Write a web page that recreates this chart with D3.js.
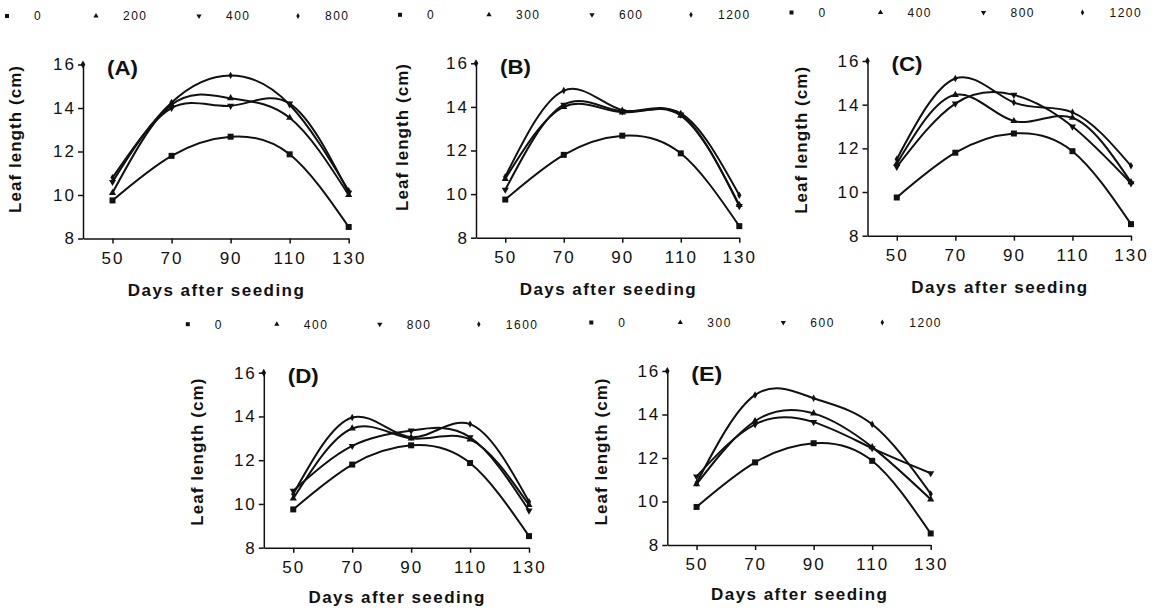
<!DOCTYPE html>
<html lang="en">
<head>
<meta charset="UTF-8">
<title>Leaf length</title>
<style>
    body{margin:0;background:#fff;}
    svg{display:block;font-family:"Liberation Sans",Arial,sans-serif;}
    .axis path,.axis line{fill:none;stroke:#111;stroke-width:1.5;}
    .axis text{font-size:17px;fill:#111;letter-spacing:2px;font-family:"Liberation Sans",Arial,sans-serif;}
    .curve{fill:none;stroke:#111;stroke-width:2;}
    .title{font-weight:bold;font-size:17px;fill:#111;}
    .panel-label{font-weight:bold;font-size:20px;fill:#111;}
    .legend text{font-size:12px;fill:#111;letter-spacing:1.5px;}
</style>
<script src="https://cdn.jsdelivr.net/npm/d3@7"></script>
</head>
<body>
<script>
    // data
    var days = [50, 70, 90, 110, 130];
    var yTicks = [8, 10, 12, 14, 16];
    var control = [9.75, 11.8, 12.68, 11.87, 8.53];   // dose 0, same in every panel

    var dosesA = ["0", "200", "400", "800"];
    var a200 = [10.1, 14.15, 14.45, 13.55, 10.0];
    var a400 = [10.6, 14.0, 14.1, 14.2, 10.1];
    var a800 = [10.8, 14.25, 15.5, 14.15, 10.2];

    var dosesB = ["0", "300", "600", "1200"];
    var b300 = [10.7, 14.0, 13.75, 13.6, 9.5];
    var b600 = [10.2, 14.1, 13.8, 13.65, 9.45];
    var b1200 = [10.8, 14.75, 13.85, 13.7, 9.95];

    var dosesC = ["0", "400", "800", "1200"];
    var c400 = [11.3, 14.45, 13.25, 13.4, 10.45];
    var c800 = [11.15, 14.05, 14.45, 13.0, 10.4];
    var c1200 = [11.5, 15.2, 14.1, 13.65, 11.2];

    var dosesD = ["0", "400", "800", "1600"];
    var d400 = [10.25, 13.45, 13.0, 12.95, 9.95];
    var d800 = [10.6, 12.65, 13.35, 13.05, 9.7];
    var d1600 = [10.45, 13.95, 13.05, 13.65, 10.1];

    var dosesE = ["0", "300", "600", "1200"];
    var e300 = [10.8, 13.7, 14.05, 12.5, 10.1];
    var e600 = [11.15, 13.55, 13.65, 12.45, 11.3];
    var e1200 = [10.85, 14.9, 14.75, 13.55, 10.35];

    var panelNames = ["(A)", "(B)", "(C)", "(D)", "(E)"];

    // where each panel sits on the page
    var layout = [
        {left: 83, right: 348.7, top: 64.5, bottom: 238.5, ytitle: -68, tshift: -12},
        {left: 476, right: 739.3, top: 63.3, bottom: 237.7, ytitle: -74, tshift: -13},
        {left: 867.5, right: 1131, top: 61, bottom: 235.7, ytitle: -67, tshift: -8},
        {left: 263.8, right: 529, top: 372.7, bottom: 547.7, ytitle: -67, tshift: -8},
        {left: 667.3, right: 930.7, top: 371, bottom: 545, ytitle: -66, tshift: -6}
    ];

    var panels = [
        {name: panelNames[0], doses: dosesA, series: [control, a200, a400, a800]},
        {name: panelNames[1], doses: dosesB, series: [control, b300, b600, b1200]},
        {name: panelNames[2], doses: dosesC, series: [control, c400, c800, c1200]},
        {name: panelNames[3], doses: dosesD, series: [control, d400, d800, d1600]},
        {name: panelNames[4], doses: dosesE, series: [control, e300, e600, e1200]}
    ];

    var width = 1157, height = 612;
    var svg = d3.select("body").append("svg")
            .attr("width", width)
            .attr("height", height);

    // marker shapes: square, triangle, inverted triangle, diamond
    var shapes = [d3.symbolSquare, d3.symbolTriangle, d3.symbolTriangle, d3.symbolDiamond];
    var flips = [0, 0, 180, 0];
    var markSize = [36, 22, 22, 16];
    var legendSize = [16, 12, 12, 10];
    var legendOffset = [-76, 13, 116, 215];

    panels.forEach(function(p, i){
        var L = layout[i];
        var g = svg.append("g");

        var xScale = d3.scaleLinear().domain([40, 130]).range([L.left, L.right]);
        var yScale = d3.scaleLinear().domain([8, 16]).range([L.bottom, L.top]);

        g.append("g")
                .attr("class", "axis")
                .attr("transform", "translate(0," + L.bottom + ")")
                .call(d3.axisBottom(xScale).tickValues(days).tickSize(5).tickSizeOuter(0).tickPadding(8));

        g.append("g")
                .attr("class", "axis")
                .attr("transform", "translate(" + xScale(40) + ",0)")
                .call(d3.axisLeft(yScale).tickValues(yTicks).tickSize(5).tickSizeOuter(0).tickPadding(2));

        // the dot at the top of the y axis
        g.append("path")
                .attr("d", d3.symbol().type(d3.symbolDiamond).size(18)())
                .attr("transform", "translate(" + xScale(40) + "," + yScale(16) + ")")
                .attr("fill", "#111");

        var line = d3.line()
                .x(function(d, j){ return xScale(days[j]); })
                .y(function(d){ return yScale(d); })
                .curve(d3.curveNatural);

        p.series.forEach(function(s, k){
            g.append("path")
                    .attr("class", "curve")
                    .attr("d", line(s));

            g.selectAll(".m" + k)
                    .data(s)
                    .enter()
                    .append("path")
                    .attr("class", "m" + k)
                    .attr("d", d3.symbol().type(shapes[k]).size(markSize[k]))
                    .attr("transform", function(d, j){
                        return "translate(" + xScale(days[j]) + "," + yScale(d) + ") rotate(" + flips[k] + ")";
                    })
                    .attr("fill", "#111");
        });

        // legend row above the panel
        var lg = g.append("g").attr("class", "legend")
                .attr("transform", "translate(" + L.left + "," + (L.top - 48.5) + ")");
        p.doses.forEach(function(dose, k){
            lg.append("path")
                    .attr("d", d3.symbol().type(shapes[k]).size(legendSize[k])())
                    .attr("transform", "translate(" + legendOffset[k] + ",0) rotate(" + flips[k] + ")")
                    .attr("fill", "#111");
            lg.append("text")
                    .attr("x", legendOffset[k] + 27)
                    .attr("dy", "0.36em")
                    .text(dose);
        });

        g.append("text")
                .attr("class", "panel-label")
                .attr("x", L.left + 24)
                .attr("y", L.top + 3)
                .attr("dy", "0.36em")
                .attr("textLength", 31)
                .attr("lengthAdjust", "spacingAndGlyphs")
                .text(p.name);

        g.append("text")
                .attr("class", "title")
                .attr("text-anchor", "middle")
                .attr("transform", "translate(" + (L.left + L.ytitle) + "," + ((L.top + L.bottom) / 2 + L.tshift) + ") rotate(-90)")
                .attr("dy", "0.36em")
                .attr("textLength", 147)
                .attr("lengthAdjust", "spacing")
                .text("Leaf length (cm)");

        g.append("text")
                .attr("class", "title")
                .attr("text-anchor", "middle")
                .attr("x", (L.left + L.right) / 2)
                .attr("y", L.bottom + (i < 3 ? 57 : 55))
                .attr("textLength", 176)
                .attr("lengthAdjust", "spacing")
                .text("Days after seeding");
    });
</script>
</body>
</html>
